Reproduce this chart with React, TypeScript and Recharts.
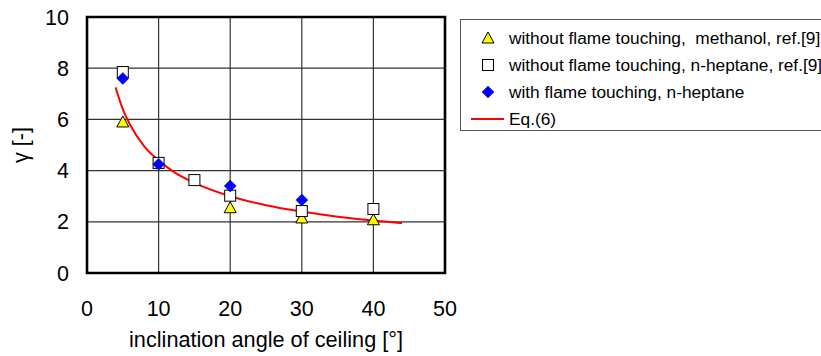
import React from 'react';
import {
  ComposedChart,
  Scatter,
  Line,
  XAxis,
  YAxis,
  CartesianGrid,
  ReferenceArea,
  Label,
} from 'recharts';

const xTicks = [0, 10, 20, 30, 40, 50];
const yTicks = [0, 2, 4, 6, 8, 10];

// measured points
const methanolRef = [
  { x: 5, y: 5.9 },
  { x: 20, y: 2.55 },
  { x: 30, y: 2.15 },
  { x: 40, y: 2.08 },
];
const heptaneRef = [
  { x: 5, y: 7.85 },
  { x: 10, y: 4.3 },
  { x: 15, y: 3.63 },
  { x: 20, y: 3.02 },
  { x: 30, y: 2.42 },
  { x: 40, y: 2.5 },
];
const heptaneTouching = [
  { x: 5, y: 7.6 },
  { x: 10, y: 4.25 },
  { x: 20, y: 3.4 },
  { x: 30, y: 2.85 },
];
// Eq.(6) curve
const eq6 = [
  { x: 4, y: 7.25 },
  { x: 5, y: 6.4 },
  { x: 6, y: 5.8 },
  { x: 8, y: 4.95 },
  { x: 10, y: 4.4 },
  { x: 12, y: 3.97 },
  { x: 15, y: 3.52 },
  { x: 20, y: 3.0 },
  { x: 25, y: 2.65 },
  { x: 30, y: 2.4 },
  { x: 35, y: 2.2 },
  { x: 40, y: 2.05 },
  { x: 44, y: 1.95 },
];

const seriesNames = [
  'without flame touching,  methanol, ref.[9]',
  'without flame touching, n-heptane, ref.[9]',
  'with flame touching, n-heptane',
  'Eq.(6)',
];

const FONT = '"Liberation Sans", Arial, sans-serif';

const Triangle = ({ cx, cy }: any) => (
  <polygon
    points={`${cx},${cy - 6} ${cx - 6},${cy + 5} ${cx + 6},${cy + 5}`}
    fill="#FFFF00"
    stroke="#000"
    strokeWidth={1}
  />
);
const Square = ({ cx, cy }: any) => (
  <rect x={cx - 5.5} y={cy - 5.5} width={11} height={11} fill="#fff" stroke="#000" strokeWidth={1} />
);
const Diamond = ({ cx, cy }: any) => (
  <polygon
    points={`${cx},${cy - 6} ${cx + 6},${cy} ${cx},${cy + 6} ${cx - 6},${cy}`}
    fill="#0000FF"
    stroke="#0000cc"
    strokeWidth={0.5}
  />
);

// legend box, placed beside the plot and clipped by the page edge
const LegendBox = () => (
  <div
    style={{
      position: 'absolute',
      left: 460,
      top: 19,
      width: 380,
      height: 112,
      border: '1px solid #555',
      boxSizing: 'border-box',
      background: '#fff',
      fontFamily: FONT,
      fontSize: 17.3,
      color: '#000',
    }}
  >
    {seriesNames.map((name, i) => (
      <div
        key={name}
        style={{ position: 'absolute', left: 0, top: 8 + i * 27, height: 20, display: 'flex', alignItems: 'center', whiteSpace: 'pre' }}
      >
        <svg width={48} height={20} style={{ display: 'block' }}>
          {i === 0 && <Triangle cx={27} cy={10} />}
          {i === 1 && <Square cx={27} cy={10} />}
          {i === 2 && <Diamond cx={27} cy={10} />}
          {i === 3 && <line x1={10} y1={10} x2={43} y2={10} stroke="#FF0000" strokeWidth={2} />}
        </svg>
        <span>{name}</span>
      </div>
    ))}
  </div>
);

export default function App() {
  return (
    <div style={{ position: 'absolute', left: 0, top: 0, width: 821, height: 356, overflow: 'hidden', background: '#fff' }}>
      <ComposedChart
        width={821}
        height={356}
        margin={{ top: 17, right: 376, bottom: 0, left: 0 }}
        style={{ fontFamily: FONT }}
      >
        <CartesianGrid stroke="#333" strokeWidth={1.2} />
        <XAxis
          type="number"
          dataKey="x"
          domain={[0, 50]}
          ticks={xTicks}
          axisLine={false}
          tickLine={false}
          tickSize={0}
          tickMargin={28}
          height={83}
          tick={{ fill: '#000', fontSize: 21.5 }}
        >
          <Label
            value="inclination angle of ceiling [°]"
            position="insideBottom"
            offset={9}
            style={{ fill: '#000', fontSize: 21.7 }}
          />
        </XAxis>
        <YAxis
          type="number"
          dataKey="y"
          domain={[0, 10]}
          ticks={yTicks}
          axisLine={false}
          tickLine={false}
          tickSize={0}
          tickMargin={18}
          width={87}
          tick={{ fill: '#000', fontSize: 21.5 }}
        >
          <Label
            value="γ  [-]"
            angle={-90}
            position="insideLeft"
            offset={20}
            style={{ fill: '#000', fontSize: 21.5, textAnchor: 'middle' }}
          />
        </YAxis>
        <ReferenceArea x1={0} x2={50} y1={0} y2={10} fill="none" stroke="#000" strokeWidth={2.6} />
        <Line
          data={eq6}
          dataKey="y"
          type="monotone"
          stroke="#FF0000"
          strokeWidth={2}
          dot={false}
          isAnimationActive={false}
          name={seriesNames[3]}
        />
        <Scatter data={methanolRef} dataKey="y" shape={Triangle} isAnimationActive={false} name={seriesNames[0]} />
        <Scatter data={heptaneRef} dataKey="y" shape={Square} isAnimationActive={false} name={seriesNames[1]} />
        <Scatter data={heptaneTouching} dataKey="y" shape={Diamond} isAnimationActive={false} name={seriesNames[2]} />
      </ComposedChart>
      <LegendBox />
    </div>
  );
}
